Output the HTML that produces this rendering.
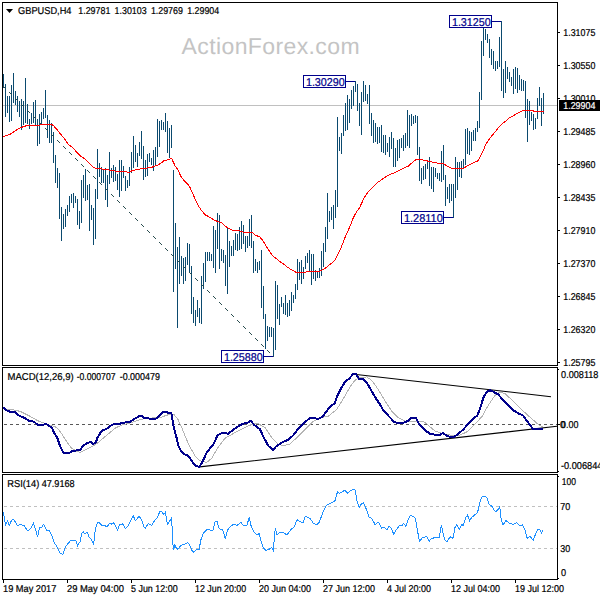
<!DOCTYPE html>
<html><head><meta charset="utf-8"><title>GBPUSD H4</title>
<style>html,body{margin:0;padding:0;background:#fff}body{width:600px;height:600px;overflow:hidden}svg{display:block}text{font-family:"Liberation Sans", Arial, sans-serif;font-size:10px;fill:#000;stroke:#000;stroke-width:.22px;text-rendering:geometricPrecision}.wm{font-size:23px;fill:#c4c4c4;stroke:none}.lbl{fill:#00008b;stroke:#00008b;font-size:11.4px}.w{fill:#fff;stroke:#fff}</style></head><body>
<svg width="600" height="600" viewBox="0 0 600 600">
<rect width="600" height="600" fill="#fff"/>
<text class="wm" x="181.6" y="53.9" textLength="178" lengthAdjust="spacing">ActionForex.com</text>
<rect x="3" y="105" width="554" height="1" fill="#c0c0c0"/>
<path d="M3.5 74V88M5.5 84V117M7.5 96V113M9.5 96V122M11.5 85V121M13.5 73V103M15.5 91V105M17.5 96V112M19.5 101V117M21.5 99V130M23.5 101V125M25.5 78V123M27.5 104V124M29.5 119V129M31.5 113V124M33.5 102V123M35.5 100V126M37.5 119V146M39.5 114V144M41.5 112V125M43.5 108V119M45.5 90V118M47.5 115V138M49.5 120V143M51.5 123V143M53.5 132V163M55.5 155V183M57.5 168V188M59.5 173V219M61.5 207V241M63.5 214V229M65.5 209V227M67.5 205V216M69.5 196V212M71.5 194V203M73.5 193V208M75.5 196V203M77.5 199V225M79.5 211V229M81.5 180V223M83.5 175V198M85.5 169V201M87.5 185V200M89.5 184V231M91.5 205V220M93.5 208V245M95.5 189V239M97.5 149V199M99.5 163V177M101.5 167V183M103.5 169V183M105.5 168V200M107.5 175V207M109.5 152V184M111.5 168V178M113.5 165V182M115.5 167V181M117.5 174V190M119.5 160V197M121.5 160V191M123.5 166V178M125.5 176V191M127.5 180V188M129.5 167V186M131.5 152V173M133.5 136V168M135.5 145V162M137.5 153V167M139.5 142V156M141.5 131V159M143.5 146V180M145.5 160V177M147.5 154V176M149.5 153V162M151.5 158V165M153.5 150V171M155.5 147V166M157.5 119V157M159.5 121V147M161.5 120V130M163.5 122V130M165.5 113V132M167.5 121V153M169.5 128V158M171.5 125V148M173.5 170V292M175.5 223V269M177.5 247V328M179.5 237V284M181.5 256V276M183.5 258V284M185.5 257V281M187.5 243V265M189.5 244V273M191.5 266V314M193.5 297V323M195.5 310V326M197.5 300V317M199.5 308V323M201.5 276V324M203.5 263V289M205.5 252V282M207.5 252V261M209.5 252V261M211.5 254V261M213.5 226V268M215.5 230V273M217.5 213V249M219.5 215V269M221.5 249V261M223.5 250V263M225.5 255V286M227.5 227V294M229.5 241V267M231.5 246V256M233.5 240V256M235.5 233V250M237.5 234V251M239.5 227V250M241.5 221V249M243.5 225V244M245.5 236V252M247.5 236V248M249.5 219V246M251.5 215V248M253.5 241V273M255.5 259V271M257.5 262V273M259.5 261V270M261.5 250V308M263.5 286V319M265.5 314V349M267.5 326V341M269.5 327V337M271.5 327V337M273.5 328V357M275.5 281V350M277.5 285V319M279.5 304V325M281.5 297V307M283.5 303V314M285.5 295V315M287.5 303V317M289.5 300V316M291.5 292V311M293.5 295V303M295.5 284V299M297.5 259V290M299.5 262V280M301.5 260V284M303.5 267V279M305.5 256V269M307.5 253V263M309.5 250V271M311.5 254V285M313.5 254V279M315.5 270V281M317.5 272V278M319.5 268V278M321.5 251V276M323.5 243V267M325.5 227V252M327.5 193V239M329.5 211V222M331.5 207V220M333.5 205V229M335.5 190V218M337.5 117V207M339.5 137V151M341.5 133V154M343.5 115V136M345.5 103V131M347.5 95V130M349.5 99V123M351.5 90V109M353.5 86V106M355.5 81V92M357.5 84V111M359.5 103V126M361.5 92V135M363.5 81V102M365.5 85V101M367.5 94V104M369.5 85V124M371.5 113V136M373.5 120V143M375.5 123V142M377.5 127V144M379.5 127V143M381.5 125V152M383.5 135V153M385.5 135V155M387.5 143V152M389.5 137V157M391.5 132V149M393.5 138V167M395.5 148V167M397.5 140V161M399.5 139V158M401.5 138V148M403.5 135V151M405.5 133V148M407.5 110V146M409.5 115V148M411.5 114V126M413.5 116V124M415.5 115V123M417.5 116V155M419.5 147V181M421.5 168V184M423.5 166V180M425.5 164V179M427.5 162V169M429.5 157V186M431.5 167V189M433.5 167V192M435.5 168V177M437.5 173V179M439.5 173V181M441.5 151V182M443.5 145V180M445.5 175V206M447.5 187V199M449.5 184V203M451.5 184V201M453.5 184V218M455.5 157V198M457.5 162V190M459.5 162V177M461.5 161V178M463.5 159V169M465.5 129V165M467.5 128V154M469.5 131V155M471.5 132V151M473.5 130V141M475.5 128V141M477.5 121V132M479.5 92V128M481.5 41V100M483.5 28V56M485.5 29V40M487.5 34V43M489.5 39V58M491.5 49V65M493.5 51V69M495.5 61V71M497.5 61V69M499.5 37V67M501.5 21V91M503.5 69V98M505.5 61V93M507.5 67V79M509.5 72V82M511.5 77V86M513.5 69V94M515.5 67V89M517.5 68V93M519.5 75V90M521.5 79V91M523.5 80V91M525.5 81V118M527.5 99V142M529.5 101V125M531.5 112V121M533.5 114V130M535.5 118V129M537.5 98V119M539.5 87V106M541.5 98V126M543.5 93V114" stroke="#0b4a6f" stroke-width="1" fill="none" shape-rendering="crispEdges"/>
<path d="M3 86.5h1M4 87.5h1M5 88.5h1M9 92.5h1M10 93.5h1M11 94.5h1M15 98.5h1M16 99.5h1M17 100.5h1M21 104.5h1M22 105.5h1M23 106.5h1M27 110.5h1M28 111.5h1M29 112.5h1M33 116.5h1M34 117.5h1M35 118.5h1M39 122.5h1M40 123.5h1M41 124.5h1M45 128.5h1M46 129.5h1M47 130.5h1M51 134.5h1M52 135.5h1M53 136.5h1M57 140.5h1M58 141.5h1M59 142.5h1M63 146.5h1M64 147.5h1M65 148.5h1M69 152.5h1M70 153.5h1M71 154.5h1M75 158.5h1M76 159.5h1M77 160.5h1M81 164.5h1M82 165.5h1M83 166.5h1M87 170.5h1M88 171.5h1M89 172.5h1M93 176.5h1M94 177.5h1M95 178.5h1M99 182.5h1M100 183.5h1M101 184.5h1M105 188.5h1M106 189.5h1M107 190.5h1M111 194.5h1M112 195.5h1M113 196.5h1M117 200.5h1M118 201.5h1M119 202.5h1M123 206.5h1M124 207.5h1M125 208.5h1M129 212.5h1M130 213.5h1M131 214.5h1M135 218.5h1M136 219.5h1M137 220.5h1M141 224.5h1M142 225.5h1M143 226.5h1M147 230.5h1M148 231.5h1M149 232.5h1M153 236.5h1M154 237.5h1M155 238.5h1M159 242.5h1M160 243.5h1M161 244.5h1M165 248.5h1M166 249.5h1M167 250.5h1M171 254.5h1M172 255.5h1M173 256.5h1M177 260.5h1M178 261.5h1M179 262.5h1M183 266.5h1M184 267.5h1M185 268.5h1M189 272.5h1M190 273.5h1M191 274.5h1M195 278.5h1M196 279.5h1M197 280.5h1M201 284.5h1M202 285.5h1M203 286.5h1M207 290.5h1M208 291.5h1M209 292.5h1M213 296.5h1M214 297.5h1M215 298.5h1M219 302.5h1M220 303.5h1M221 304.5h1M225 308.5h1M226 309.5h1M227 310.5h1M231 314.5h1M232 315.5h1M233 316.5h1M237 320.5h1M238 321.5h1M239 322.5h1M243 326.5h1M244 327.5h1M245 328.5h1M249 332.5h1M250 333.5h1M251 334.5h1M255 338.5h1M256 339.5h1M257 340.5h1M261 344.5h1M262 345.5h1M263 346.5h1M267 350.5h1M268 351.5h1M269 352.5h1M273 356.5h1" stroke="#2a4d4f" stroke-width="1" fill="none" shape-rendering="crispEdges"/>
<polyline points="3.5,136.7 10.5,134 16.5,130 20.5,127.7 25.5,126 33.5,125.3 40.5,125 45.5,124.3 51.5,124.3 53.5,125.7 57.5,130 60.5,134 64.5,138.7 68.5,144.7 72.5,147.3 76.5,152 80.5,156 84.5,158.7 88.5,162.7 92.5,166.7 95.5,168.4 100.5,168.7 104.5,169.4 110.5,170.3 117.5,171.3 122.5,171.3 126.5,171.7 129,172.6 131.5,171 136.5,169.7 141.5,168.6 147.5,168 150.5,167.6 153.5,166.7 158.5,164.7 161.5,162.7 164.5,160.3 167.5,160 171.5,158.3 175.5,166.7 177.5,169 180.5,175.7 184.5,181 189,185.7 190.5,188.5 192.5,193 195.5,200 198.5,206 201.5,210.5 205.5,215 208.5,216.6 211.5,218.3 214.5,220.3 218.5,221.7 222.5,223.3 225.5,226.3 228.5,228.3 232.5,230.3 237.5,230.6 241.5,231.4 243.5,232.4 252.5,232.4 255.5,235.3 259.5,236.7 262.5,240 265.5,245 268.5,250 271.5,254 273.5,256.7 276.5,258.7 279.5,261.3 283.5,264 287.5,267.3 291.5,269.7 295.5,272 298.5,272.3 305.5,272.3 307.5,271.3 318.5,271.5 320.5,270.7 324.5,268.7 328.5,265.6 332.5,262.4 335.5,259.3 338.5,253.3 341.5,246.7 344.5,238.7 347.5,232 350.5,225.3 353.5,217.3 356.5,212 359.5,208 362.5,201.3 363.5,199 366.5,194.3 369.5,190.3 373.5,186.3 377.5,182.6 381.5,179.7 385.5,177 389.5,174.6 393.5,173.3 396.5,171.7 402.5,168.7 408.5,166 412.5,162.3 416.5,159.4 419.5,159.4 424.5,160.3 430.5,161.7 436.5,163 443.5,163.7 447.5,166.3 451.5,168.3 454.5,168.5 463.5,168.3 467,166 471,164 475,162 478,160.8 480,157 483,151 486,144 490,138 495,132 499,127 502.5,123.5 507,120 508.5,118.3 512.5,116.3 516.5,113.7 520.5,111.7 522.5,110.5 532.5,110.5 534.5,111.5 543.5,111.5" fill="none" stroke="#ff0000" stroke-width="1" shape-rendering="crispEdges"/>
<rect x="449.5" y="15.5" width="42" height="12" fill="#fff" stroke="#00008b" stroke-width="1" shape-rendering="crispEdges"/>
<rect x="492" y="21" width="9" height="1" fill="#00008b"/>
<rect x="303.5" y="75.5" width="42" height="12" fill="#fff" stroke="#00008b" stroke-width="1" shape-rendering="crispEdges"/>
<rect x="346" y="81" width="9" height="1" fill="#00008b"/>
<rect x="401.5" y="211.5" width="42" height="12" fill="#fff" stroke="#00008b" stroke-width="1" shape-rendering="crispEdges"/>
<rect x="444" y="217" width="9" height="1" fill="#00008b"/>
<rect x="221.5" y="350.5" width="42" height="12" fill="#fff" stroke="#00008b" stroke-width="1" shape-rendering="crispEdges"/>
<rect x="264" y="356" width="9" height="1" fill="#00008b"/>
<path d="M4 424.5H558" stroke="#585858" stroke-width="1" stroke-dasharray="3 3" fill="none" shape-rendering="crispEdges"/>
<path d="M352 374 L551 396.7 M199.7 466.9 L557 426.3" stroke="#000" stroke-width="1.1" fill="none"/>
<polyline points="3.3,408.7 16,410.3 21,411.7 29,415.8 38,420.8 46.7,424.2 55,426.7 58.3,429.2 62.5,435 66.7,441.7 71.7,448.3 75.8,450.8 80,452.5 85,450 93.3,445.8 100,441.3 103,438.3 115,428.3 121.7,425 130.8,422.8 141.7,419.2 151.7,418 161.7,417 168.3,414.7 174,414.7 177.5,418.3 181.7,427.5 186.7,440 190.8,448.3 195,455.8 200,460.8 206.7,462.5 211.7,458.3 217.5,448.3 225,438.3 235,432.5 246.7,426.7 253.3,423.7 258.3,423.7 265,427.5 271.7,437.5 278.3,444.2 283.3,445.8 290,444 296.7,437.8 305,429.5 313.3,421.2 320,417.8 328.3,416.2 336.7,409.5 343.3,398.7 350,387 355,380.3 360,377.3 366.7,377 371.7,380.3 378.3,389.5 385,401 391.7,411 398.3,417.8 405,421.2 413.3,421.2 423.3,421.2 428.3,425.3 435,431 443.3,433.7 451.7,435.3 460,435 466.7,432 473.3,426 480,418.7 481.7,417 488.3,405.3 495,395.3 500,392 505,393.7 513.3,401.2 523.3,411.2 531.7,418.7 538.3,424.5 542.5,427" fill="none" stroke="#b4b4b4" stroke-width="1" shape-rendering="crispEdges"/>
<polyline points="3.3,407.5 7.5,410.8 10,411.7 15,411.7 17.5,414.7 25,418.3 29,420.8 34,421.7 37.5,424.7 43.7,424.7 45.8,423.7 48.3,425.3 51.7,427.5 54,432.5 57.5,438.3 60,445.8 63.3,452.5 70,452.5 72.5,450.8 75,450.8 77.5,450 80,450 83.3,445.8 86.7,443.3 90.8,442 93.3,444 95.8,442.5 97.5,437.5 101.7,430.8 106.7,428.7 111.7,425 115,423.7 120,423.7 122.5,422.8 130,422 134,419.2 139,416.2 141.7,415.8 144,418 148.3,418.3 151.7,419.2 155.8,418.8 159,415.8 161.7,412.8 165,411.7 168.3,412.8 171.3,412.8 172.5,420 174,428.3 176.7,438.3 178.3,445.8 180.8,450.8 184,454 188.3,455.8 191.7,460.8 193.3,463.3 196.7,466.3 199.7,466.7 202.5,461.7 206.7,452.5 214,443.3 217.5,435 222.5,433 228.3,433.7 234,429.2 241.7,424.2 248.3,422.5 250.8,420.8 254,424.7 260,429.2 263.3,436.7 268.3,445.8 273.3,450 275.8,446.7 280.8,443.3 285,440.8 287.5,440.3 293.3,435.3 297.5,429.5 303.3,423.7 310,417.8 314,417.8 317.5,419 322.5,417 329,407.8 335,402.8 337.5,395.3 340.8,388.7 345,382 349,378.7 353.3,374 355.8,374 359,378.7 362.5,378.7 366.7,382.8 370.8,389.5 375,397 380,404.5 383.3,410.3 388.3,415.7 394,421.7 396.7,422.8 403.3,422.8 407.5,421.2 411.7,417.8 415.8,417.8 419,423.7 425,430.3 430,433.7 436.7,435 440.8,434.5 443,432.8 445.8,435.3 450,437 454,437 458.3,433.7 463.3,429.5 468.3,423.7 473.3,418.7 477.5,415.3 480.8,406.2 483.3,397.8 486.7,392 490,390.3 493.3,391.7 498.3,394.5 503.3,400.3 508.3,405.3 514,410.7 519,413.7 523.3,415.7 528.3,422.8 533.3,429.2 543.3,429.5" fill="none" stroke="#00008b" stroke-width="2" stroke-linejoin="round" shape-rendering="crispEdges"/>
<path d="M4 506.5H557M4 548.5H557" stroke="#c0c0c0" stroke-width="1" stroke-dasharray="3 3" fill="none" shape-rendering="crispEdges"/>
<polyline points="3.3,512.5 4.2,516.7 5.5,524.7 7.5,520.8 9.2,525.8 11.7,520 13.7,519.2 17.5,525.8 20,524.2 24.2,525.8 27.5,530.8 30.8,528.7 33.3,523.3 35.3,528.7 37.5,537 39.7,527.5 41.7,527.5 43.7,524.2 46.7,530 48.7,530 51.7,535 54.2,542.5 57.5,547.5 60,553.3 63,554.2 65.3,546.7 68.3,543.3 70.8,540 73.3,540.8 75.8,540.3 77.5,545.8 80,541.7 81.7,533.3 83.3,531.7 85,534.2 87,531.7 89.2,537.5 91.7,540 93.7,544.2 95.3,530 97.2,523 99.2,522.5 101.7,525.3 104.2,525 107,527 109.7,523.3 111.3,524.2 113.3,522.5 115.8,526.3 117.5,530 119.7,524.7 122.5,523.7 125.5,528.7 127.5,526.7 130.8,520.8 133.3,515.8 135.3,520.8 139.2,516.3 141.7,520 143.7,526.7 145.3,528.3 148,523.7 151.7,525.3 155,520 157.5,517.5 159.7,511.7 161.7,511.3 163.7,514.7 165.3,512.5 167.5,524.2 169.2,522 171.3,518.3 172.2,528.3 173.3,550.3 174.7,545 177,549.2 178.3,548.7 180.8,545.3 184.2,544.7 187.5,542.5 189.7,545 191.7,550 193.7,552.5 196.7,549.2 199.2,549.2 200.8,540 203.3,533.3 206.7,529.7 210,530 213,530.3 215,522 217,521.3 219.2,528.7 222.5,529.7 225.3,538.3 227.5,530 230,527 233.7,524.2 237,525.3 240.8,522.5 243.3,525 247,525 249.2,517.5 251.3,526.7 254.2,532.5 256.7,534.7 259.2,533.7 261.3,541.7 263.3,548 265.8,550.3 269.2,549.2 271.7,547.5 273.3,550.3 275.3,528 277,535 279.7,532.5 283.3,532.5 287,535 291.7,528.7 294.2,527 297,519.7 300.8,522 303.3,522 305.3,516.3 310,518.3 313.3,523.3 316.7,524.7 319.2,522.5 322.5,513.3 326.7,505 330.8,503 335,500.8 337.5,491.7 339.2,493.3 345,490.3 347.5,493 351.7,490 355,489.7 357,500.8 359.2,507.5 361.3,504.2 363.3,502.5 366.7,510 369.2,517.5 371.7,518.3 375.3,525 377.5,522.5 379.2,523 381.5,528 384.2,527.5 387,530 389.2,526.3 391.3,528.3 393.7,534.2 395.8,530.3 399.7,525.3 401.7,525.8 403.7,523.3 405.8,526.3 408.7,518.3 410.8,515 413.3,516.7 415.3,518.3 417.5,530.8 419.5,541.3 422.5,537.5 426.7,536.7 429.2,541.3 431.7,538.3 436.7,537.5 439.2,537.5 441.3,525 443.3,534.2 445.3,540.8 447.5,541.3 450,536.7 453,538.3 455,527.5 456.7,525 459.2,529.2 461.7,524.7 463.3,525.3 465.8,517.5 467.5,515.3 469.7,520.8 471.7,517.5 476.7,513.3 478.3,510 479.7,503 481.7,497 484.2,496.3 486.7,497.5 489.2,504.7 491.7,505.8 493.7,509.7 495.8,512 498.3,509.2 499.7,506.3 500.8,517.5 503,525.3 505.8,520.3 509.2,523.3 513.3,524.2 516.7,522.5 519.7,525.8 522.5,525 524.7,529.2 527,538.3 530,536.3 533.3,540.3 535.8,533.3 538,529.2 540,529.7 541.7,533 542.8,530" fill="none" stroke="#1e90ff" stroke-width="1" shape-rendering="crispEdges"/>
<g fill="#000">
<rect x="2" y="2" width="556" height="1"/><rect x="2" y="365" width="556" height="1"/>
<rect x="2" y="2" width="1" height="364"/><rect x="557" y="2" width="1" height="364"/>
<rect x="2" y="367" width="556" height="1"/><rect x="2" y="472" width="556" height="1"/>
<rect x="2" y="367" width="1" height="106"/><rect x="557" y="367" width="1" height="106"/>
<rect x="2" y="474" width="556" height="1"/><rect x="2" y="579" width="556" height="1"/>
<rect x="2" y="474" width="1" height="106"/><rect x="557" y="474" width="1" height="106"/>
<rect x="558" y="32" width="2" height="1"/>
<rect x="558" y="65" width="2" height="1"/>
<rect x="558" y="98" width="2" height="1"/>
<rect x="558" y="131" width="2" height="1"/>
<rect x="558" y="164" width="2" height="1"/>
<rect x="558" y="197" width="2" height="1"/>
<rect x="558" y="230" width="2" height="1"/>
<rect x="558" y="263" width="2" height="1"/>
<rect x="558" y="296" width="2" height="1"/>
<rect x="558" y="329" width="2" height="1"/>
<rect x="558" y="362" width="2" height="1"/>
<rect x="558" y="369" width="1" height="1"/>
<rect x="558" y="471" width="1" height="1"/>
<rect x="558" y="476" width="1" height="1"/>
<rect x="558" y="578" width="1" height="1"/>
<rect x="558" y="424" width="2" height="1"/>
<rect x="3" y="580" width="1" height="3"/>
<rect x="67" y="580" width="1" height="3"/>
<rect x="131" y="580" width="1" height="3"/>
<rect x="195" y="580" width="1" height="3"/>
<rect x="259" y="580" width="1" height="3"/>
<rect x="323" y="580" width="1" height="3"/>
<rect x="387" y="580" width="1" height="3"/>
<rect x="451" y="580" width="1" height="3"/>
<rect x="515" y="580" width="1" height="3"/>
<path d="M6 9H13L9.5 13Z"/>
</g>
<rect x="559" y="100" width="41" height="11" fill="#000"/>
<text x="18.10" y="14" textLength="53.39" lengthAdjust="spacingAndGlyphs">GBPUSD,H4</text>
<text x="78.30" y="14" textLength="32.01" lengthAdjust="spacingAndGlyphs">1.29781</text>
<text x="114.60" y="14" textLength="32.01" lengthAdjust="spacingAndGlyphs">1.30103</text>
<text x="150.90" y="14" textLength="32.01" lengthAdjust="spacingAndGlyphs">1.29769</text>
<text x="187.20" y="14" textLength="32.01" lengthAdjust="spacingAndGlyphs">1.29904</text>
<text x="563.30" y="36" textLength="32.01" lengthAdjust="spacingAndGlyphs">1.31075</text>
<text x="563.30" y="69" textLength="32.01" lengthAdjust="spacingAndGlyphs">1.30550</text>
<text x="563.30" y="102" textLength="32.01" lengthAdjust="spacingAndGlyphs">1.30010</text>
<text x="563.30" y="135" textLength="32.01" lengthAdjust="spacingAndGlyphs">1.29485</text>
<text x="563.30" y="168" textLength="32.01" lengthAdjust="spacingAndGlyphs">1.28960</text>
<text x="563.30" y="201" textLength="32.01" lengthAdjust="spacingAndGlyphs">1.28435</text>
<text x="563.30" y="234" textLength="32.01" lengthAdjust="spacingAndGlyphs">1.27910</text>
<text x="563.30" y="267" textLength="32.01" lengthAdjust="spacingAndGlyphs">1.27370</text>
<text x="563.30" y="300" textLength="32.01" lengthAdjust="spacingAndGlyphs">1.26845</text>
<text x="563.30" y="333" textLength="32.01" lengthAdjust="spacingAndGlyphs">1.26320</text>
<text x="563.30" y="366" textLength="32.01" lengthAdjust="spacingAndGlyphs">1.25795</text>
<text class="w" x="563.30" y="109" textLength="32.01" lengthAdjust="spacingAndGlyphs">1.29904</text>
<text x="7.60" y="380" textLength="66.11" lengthAdjust="spacingAndGlyphs">MACD(12,26,9)</text>
<text x="76.70" y="380" textLength="38.82" lengthAdjust="spacingAndGlyphs">-0.000707</text>
<text x="119.70" y="380" textLength="40.21" lengthAdjust="spacingAndGlyphs">-0.000479</text>
<text x="561.10" y="378" textLength="37.30" lengthAdjust="spacingAndGlyphs">0.008118</text>
<text x="561.10" y="428" textLength="17.41" lengthAdjust="spacingAndGlyphs">0.00</text>
<text x="560.10" y="428" textLength="5.19" lengthAdjust="spacingAndGlyphs">0</text>
<text x="560.90" y="469" textLength="41.50" lengthAdjust="spacingAndGlyphs">-0.006844</text>
<text x="7.20" y="487" textLength="32.11" lengthAdjust="spacingAndGlyphs">RSI(14)</text>
<text x="41.70" y="487" textLength="32.90" lengthAdjust="spacingAndGlyphs">47.9168</text>
<text x="561.70" y="485" textLength="14.23" lengthAdjust="spacingAndGlyphs">100</text>
<text x="560.30" y="510" textLength="10.01" lengthAdjust="spacingAndGlyphs">70</text>
<text x="560.30" y="552" textLength="10.01" lengthAdjust="spacingAndGlyphs">30</text>
<text x="561.00" y="576" textLength="5.10" lengthAdjust="spacingAndGlyphs">0</text>
<text x="3.00" y="592" textLength="53.40" lengthAdjust="spacingAndGlyphs">19 May 2017</text>
<text x="67.00" y="592" textLength="56.89" lengthAdjust="spacingAndGlyphs">29 May 04:00</text>
<text x="131.00" y="592" textLength="46.61" lengthAdjust="spacingAndGlyphs">5 Jun 12:00</text>
<text x="195.00" y="592" textLength="51.21" lengthAdjust="spacingAndGlyphs">12 Jun 20:00</text>
<text x="259.00" y="592" textLength="51.91" lengthAdjust="spacingAndGlyphs">20 Jun 04:00</text>
<text x="323.00" y="592" textLength="51.91" lengthAdjust="spacingAndGlyphs">27 Jun 12:00</text>
<text x="387.00" y="592" textLength="43.91" lengthAdjust="spacingAndGlyphs">4 Jul 20:00</text>
<text x="451.00" y="592" textLength="48.91" lengthAdjust="spacingAndGlyphs">12 Jul 04:00</text>
<text x="515.00" y="592" textLength="48.91" lengthAdjust="spacingAndGlyphs">19 Jul 12:00</text>
<text class="lbl" x="451.90" y="26" textLength="38.92" lengthAdjust="spacingAndGlyphs">1.31250</text>
<text class="lbl" x="305.90" y="86" textLength="38.92" lengthAdjust="spacingAndGlyphs">1.30290</text>
<text class="lbl" x="403.90" y="222" textLength="38.92" lengthAdjust="spacingAndGlyphs">1.28110</text>
<text class="lbl" x="223.90" y="361" textLength="38.92" lengthAdjust="spacingAndGlyphs">1.25880</text>
</svg></body></html>
